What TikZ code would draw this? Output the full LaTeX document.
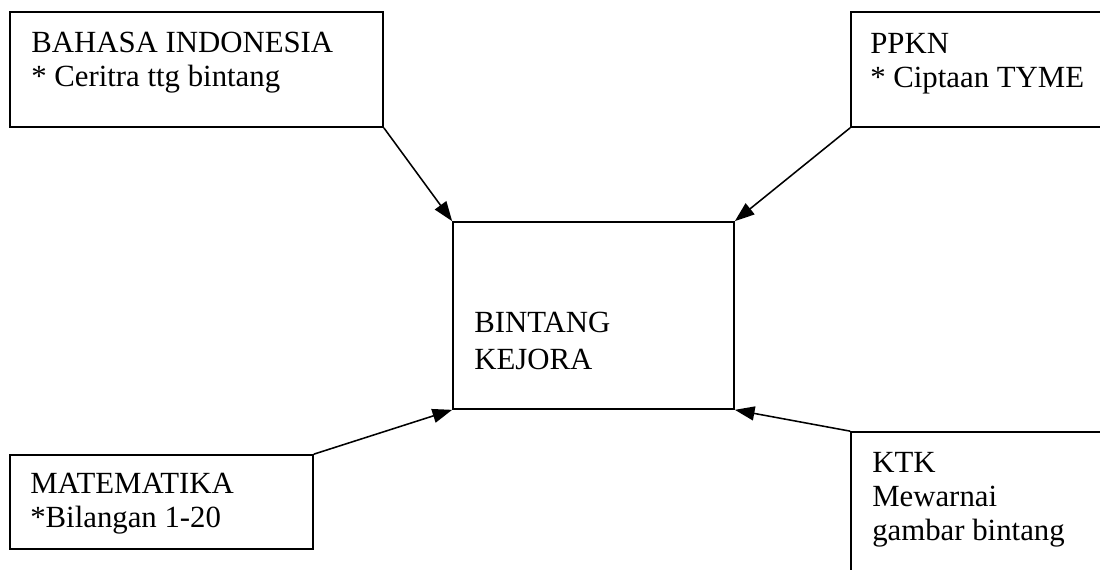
\documentclass[tikz,border=0pt]{standalone}
\usepackage{fontspec}
\setmainfont{Liberation Serif}
\usetikzlibrary{arrows.meta,fit}

\begin{document}
\begin{tikzpicture}[x=0.025cm,y=-0.025cm,
  box/.style={draw,line width=1.2pt,inner sep=0pt},
  txt/.style={anchor=north west,inner sep=0pt,align=left,font=\fontsize{21.9}{24.2}\selectfont},
  arr/.style={-{Triangle[length=14pt,width=10pt]},line width=1.1pt}]
  \useasboundingbox (0,0) rectangle (1100,570);
  % boxes
  \node[box,fit={(10,12) (383,127)}] (bind) {};
  \node[box,fit={(851,12) (1115,127)}] (ppkn) {};
  \node[box,fit={(453,222) (734,409)}] (pusat) {};
  \node[box,fit={(10,455) (313,549)}] (mtk) {};
  \node[box,fit={(851,432) (1115,585)}] (ktk) {};
  % texts
  \node[txt] (bind-t) at (31,32) {BAHASA INDONESIA\\* Ceritra ttg bintang};
  \node[txt] (ppkn-t) at (870,33) {PPKN\\* Ciptaan TYME};
  \node[txt,font=\fontsize{21.9}{26.3}\selectfont] (pusat-t) at (474,312) {BINTANG\\KEJORA};
  \node[txt] (mtk-t) at (30,473) {MATEMATIKA\\*Bilangan 1-20};
  \node[txt] (ktk-t) at (872,452) {KTK\\Mewarnai\\gambar bintang};
  % arrows
  \draw[arr] (bind.south east) -- (pusat.north west);
  \draw[arr] (ppkn.south west) -- (pusat.north east);
  \draw[arr] (mtk.north east) -- (pusat.south west);
  \draw[arr] (ktk.north west) -- (pusat.south east);
\end{tikzpicture}
\end{document}
